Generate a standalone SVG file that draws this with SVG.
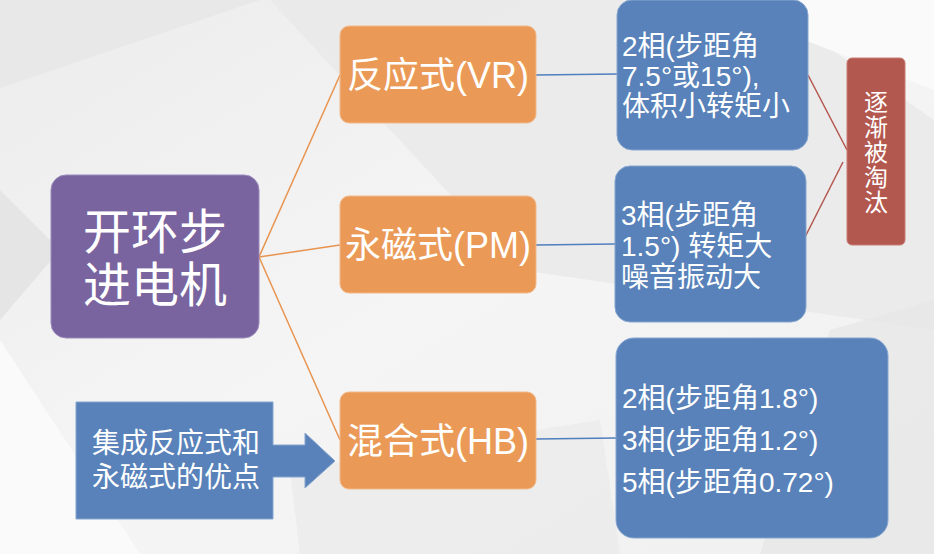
<svg xmlns="http://www.w3.org/2000/svg" width="934" height="554" viewBox="0 0 934 554">
<defs>
<linearGradient id="bg" x1="0" y1="0" x2="1" y2="1">
<stop offset="0" stop-color="#ececec"/>
<stop offset="0.5" stop-color="#f5f5f5"/>
<stop offset="1" stop-color="#f0f0f0"/>
</linearGradient>
<style>
.t{font-family:"Liberation Sans","Noto Sans CJK SC",sans-serif;fill:#ffffff}
.purple{fill:#7964a0;stroke:#9a89bb;stroke-width:1}
.orange{fill:#ea9a56;stroke:#f2b98a;stroke-width:1}
.blue{fill:#5882b9;stroke:#86a5cf;stroke-width:1}
.red{fill:#b3584f;stroke:#c97d75;stroke-width:1}
.lo{stroke:#e8944f;stroke-width:1.5;fill:none}
.lb{stroke:#4f7fbd;stroke-width:1.5;fill:none}
.lr{stroke:#b5574f;stroke-width:1.5;fill:none}
</style>
</defs>
<g id="background">
<rect x="0" y="0" width="934" height="554" fill="url(#bg)"/>
<polygon points="0,0 260,0 0,88" fill="#e6e6e6" opacity="0.7"/>
<polygon points="270,0 760,0 934,120 934,330 520,270" fill="#e9e9e9" opacity="0.8"/>
<polygon points="0,190 60,250 0,320" fill="#e2e2e2" opacity="0.8"/>
<polygon points="700,0 934,0 934,90" fill="#fafafa"/>
<polygon points="830,330 934,300 934,554 760,554" fill="#e7e7e7" opacity="0.8"/>
<polygon points="290,470 600,420 620,554 300,554" fill="#e9e9e9" opacity="0.7"/>
<polygon points="0,340 140,554 0,554" fill="#fafafa"/>
</g>
<g id="connectors">
<line class="lo" x1="259" y1="257" x2="340" y2="75"/>
<line class="lo" x1="259" y1="257" x2="340" y2="245"/>
<line class="lo" x1="259" y1="257" x2="340" y2="440"/>
<line class="lb" x1="536" y1="75" x2="617" y2="74"/>
<line class="lb" x1="536" y1="245" x2="615" y2="244"/>
<line class="lb" x1="536" y1="439" x2="616" y2="438"/>
<line class="lr" x1="808" y1="75" x2="847" y2="150"/>
<line class="lr" x1="800" y1="247" x2="843" y2="162"/>
</g>
<g id="n-root">
<rect class="purple" x="51" y="175" width="208" height="163" rx="15"/>
<text class="t" font-size="48" text-anchor="middle"><tspan x="155" y="249">开环步</tspan><tspan x="155" y="302">进电机</tspan></text>
</g>
<g id="n-vr">
<rect class="orange" x="340" y="26" width="196" height="97" rx="9"/>
<text class="t" font-size="36" x="438" y="88" text-anchor="middle">反应式(VR)</text>
</g>
<g id="n-pm">
<rect class="orange" x="340" y="196" width="196" height="97" rx="9"/>
<text class="t" font-size="36" x="438" y="258" text-anchor="middle">永磁式(PM)</text>
</g>
<g id="n-hb">
<rect class="orange" x="340" y="392" width="196" height="97" rx="9"/>
<text class="t" font-size="36" x="438" y="454" text-anchor="middle">混合式(HB)</text>
</g>
<g id="n-vr-desc">
<rect class="blue" x="617" y="0" width="191" height="150" rx="15"/>
<text class="t" font-size="28"><tspan x="622" y="56">2相(步距角</tspan><tspan x="622" y="86">7.5°或15°),</tspan><tspan x="622" y="116">体积小转矩小</tspan></text>
</g>
<g id="n-pm-desc">
<rect class="blue" x="615" y="166" width="191" height="156" rx="15"/>
<text class="t" font-size="28"><tspan x="621" y="225">3相(步距角</tspan><tspan x="621" y="256">1.5°) 转矩大</tspan><tspan x="621" y="287">噪音振动大</tspan></text>
</g>
<g id="n-hb-desc">
<rect class="blue" x="616" y="338" width="272" height="200" rx="18"/>
<text class="t" font-size="28"><tspan x="622" y="408">2相(步距角1.8°)</tspan><tspan x="622" y="450">3相(步距角1.2°)</tspan><tspan x="622" y="492">5相(步距角0.72°)</tspan></text>
</g>
<g id="n-obsolete">
<rect class="red" x="847" y="58" width="58" height="187" rx="5"/>
<text class="t" font-size="24" text-anchor="middle"><tspan x="876" y="111">逐</tspan><tspan x="876" y="136">渐</tspan><tspan x="876" y="161">被</tspan><tspan x="876" y="186">淘</tspan><tspan x="876" y="211">汰</tspan></text>
</g>
<g id="n-combine">
<path class="blue" d="M76,402 H273 V445 H305 V433 L335,461 L305,488 V477 H273 V519 H76 Z"/>
<text class="t" font-size="28" text-anchor="middle"><tspan x="176" y="453">集成反应式和</tspan><tspan x="176" y="487">永磁式的优点</tspan></text>
</g>
</svg>
